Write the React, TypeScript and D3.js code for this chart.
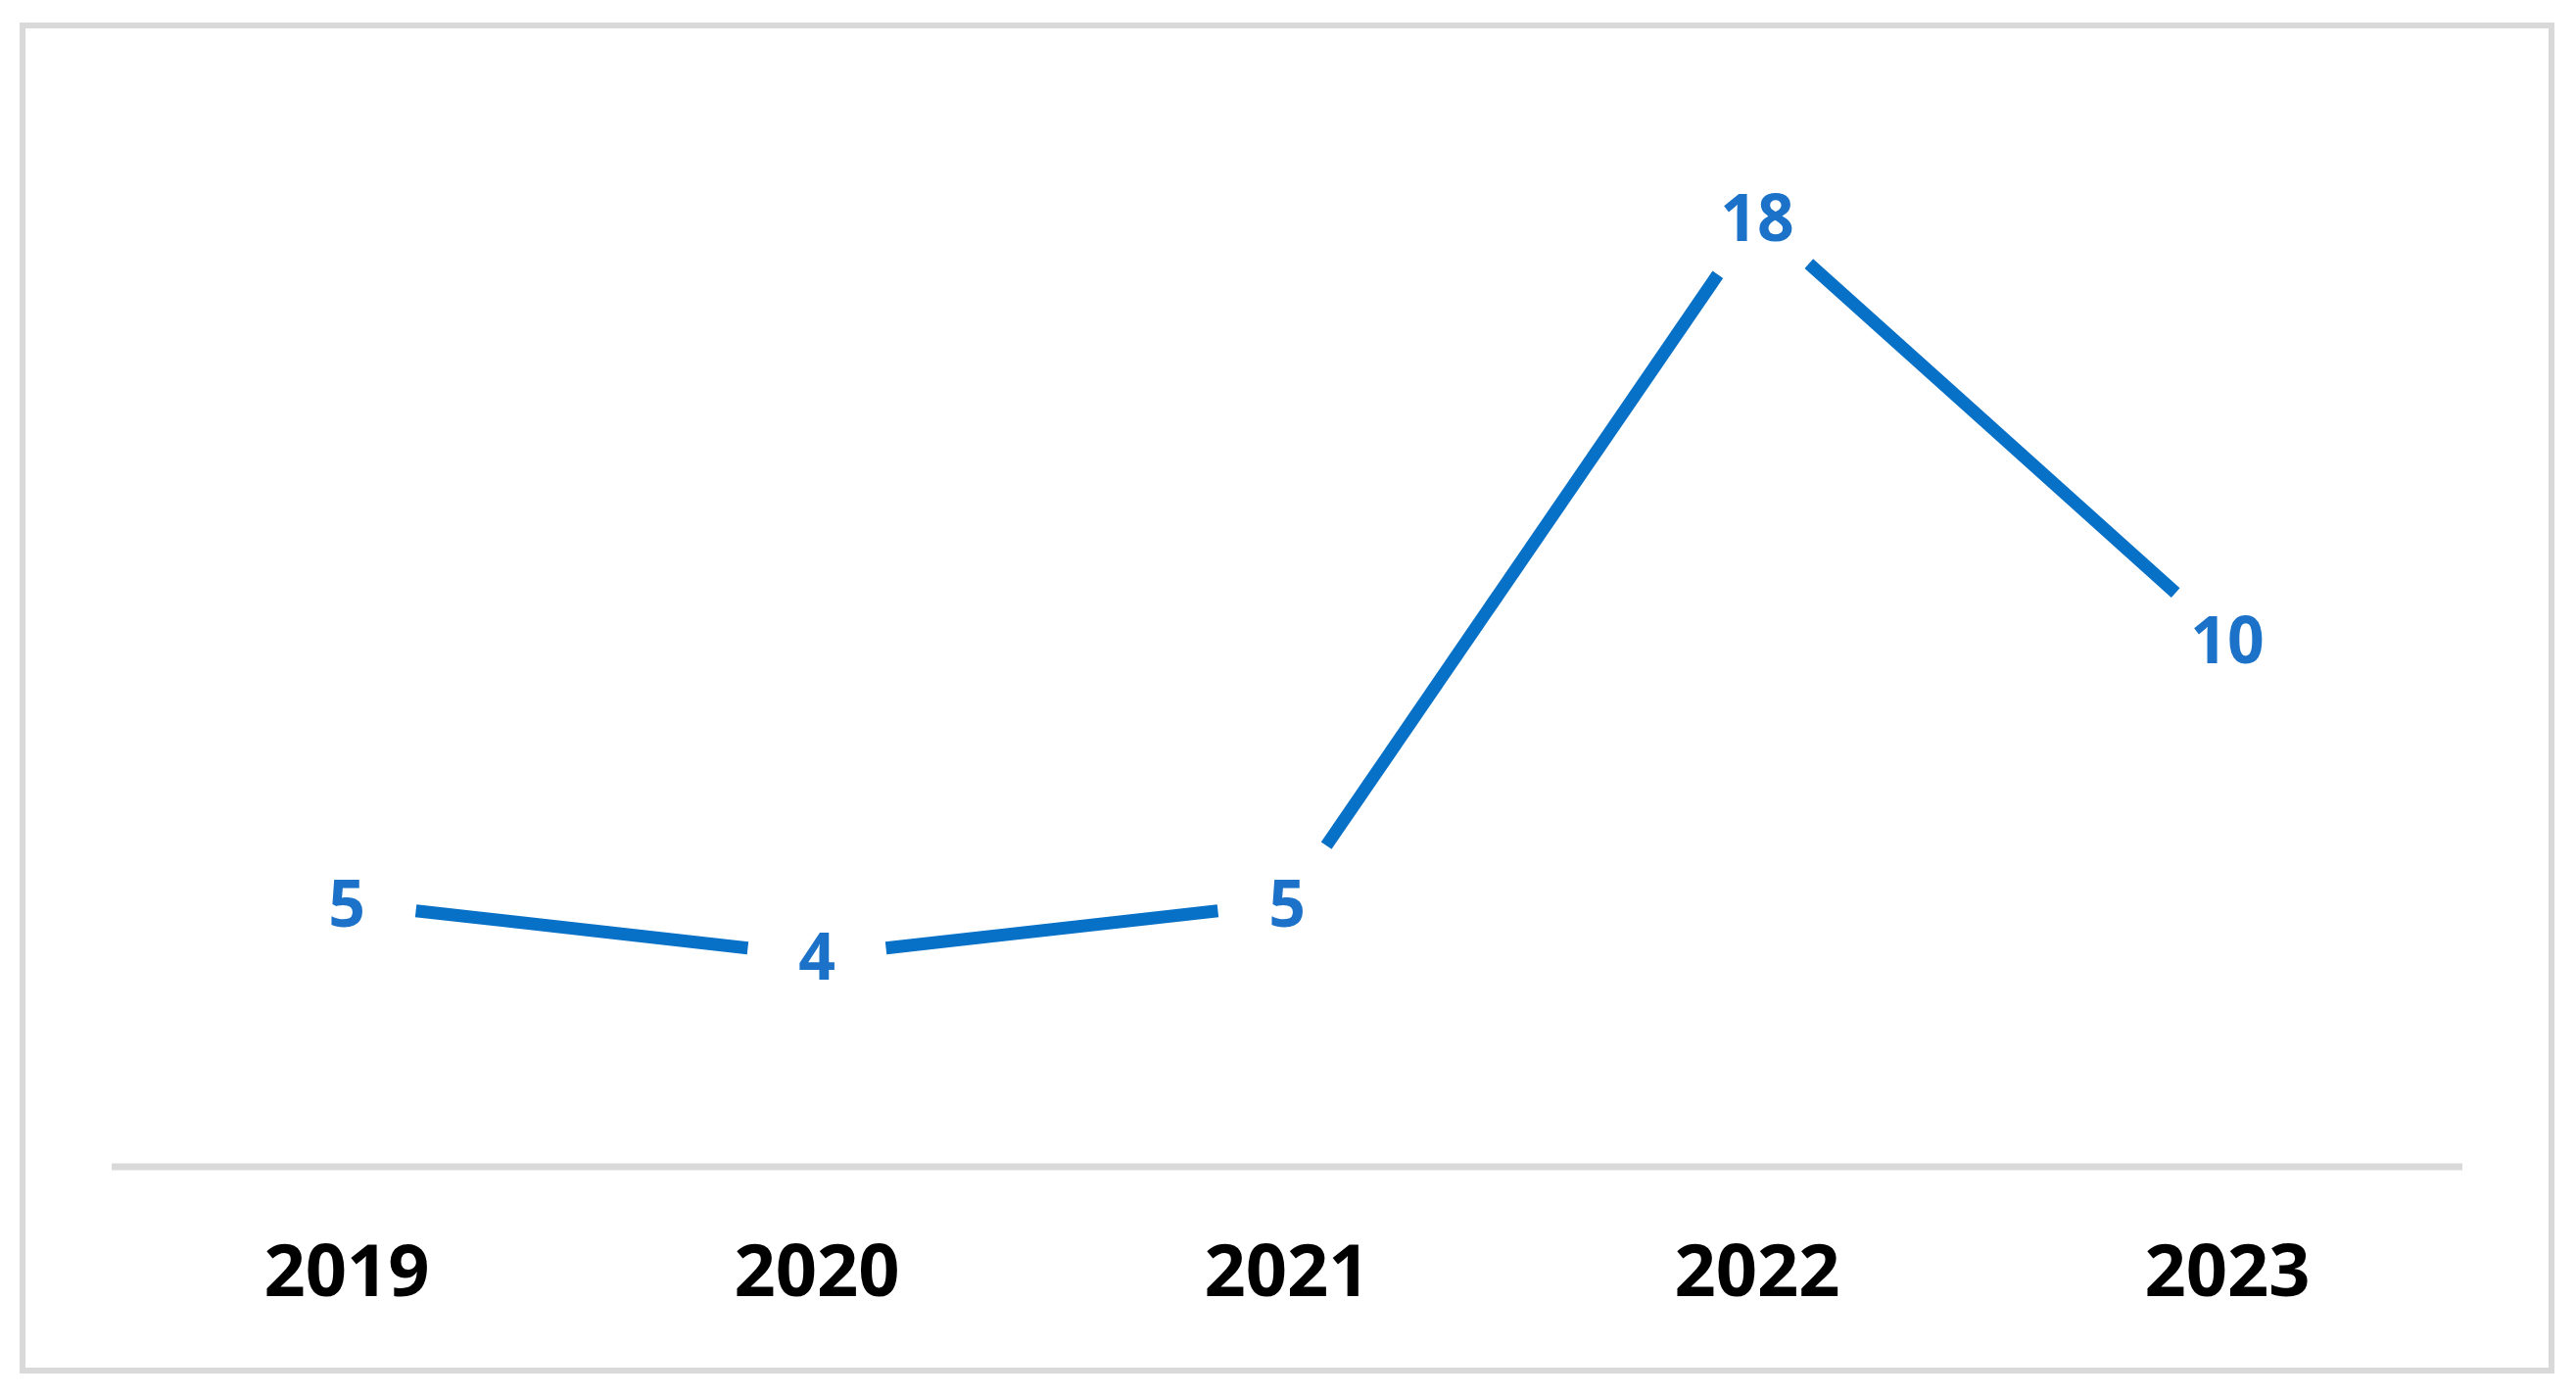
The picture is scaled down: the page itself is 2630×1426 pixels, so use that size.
import React from "react";
import * as d3 from "d3";

const years = ["2019", "2020", "2021", "2022", "2023"];
const counts = [5, 4, 5, 18, 10];

const W = 2630;
const H = 1426;
const lineColor = "#0770c7";
const labelColor = "#1b72c8";
const gridGrey = "#d9d9d9";
const font = "'Open Sans', 'Noto Sans', sans-serif";

export default function App() {
  const x = d3.scaleBand<string>().domain(years).range([114, 2514]);
  const y = d3.scaleLinear().domain([0, 20]).range([1191, 114]);

  const pts = years.map((yr, i) => ({
    yr,
    v: counts[i],
    px: (x(yr) as number) + x.bandwidth() / 2,
    py: y(counts[i]),
  }));

  // line segments are cut back around each point so the labels sit in a gap
  const gap = 71;
  const segs = d3.pairs(pts).map(([a, b]) => {
    const dx = b.px - a.px;
    const dy = b.py - a.py;
    const len = Math.hypot(dx, dy);
    const ux = dx / len;
    const uy = dy / len;
    return {
      x1: a.px + ux * gap,
      y1: a.py + uy * gap,
      x2: b.px - ux * gap,
      y2: b.py - uy * gap,
    };
  });

  return (
    <svg
      width={W}
      height={H}
      style={{ position: "absolute", left: 0, top: 0, display: "block", background: "#fff" }}
    >
      <rect x={23} y={26} width={2582} height={1373} fill="#fff" stroke={gridGrey} strokeWidth={6} />

      <line x1={x.range()[0]} x2={x.range()[1]} y1={y(0)} y2={y(0)} stroke={gridGrey} strokeWidth={7} />

      {segs.map((s, i) => (
        <line
          key={i}
          x1={s.x1}
          y1={s.y1}
          x2={s.x2}
          y2={s.y2}
          stroke={lineColor}
          strokeWidth={13}
          strokeLinecap="butt"
        />
      ))}

      {pts.map((p) => (
        <text
          key={"v" + p.yr}
          x={p.px}
          y={p.py + 24}
          textAnchor="middle"
          fontFamily={font}
          fontWeight="bold"
          fontSize={66}
          fill={labelColor}
        >
          {p.v}
        </text>
      ))}

      {pts.map((p) => (
        <text
          key={"x" + p.yr}
          x={p.px}
          y={1323}
          textAnchor="middle"
          fontFamily={font}
          fontWeight="bold"
          fontSize={74}
          fill="#000"
        >
          {p.yr}
        </text>
      ))}
    </svg>
  );
}
